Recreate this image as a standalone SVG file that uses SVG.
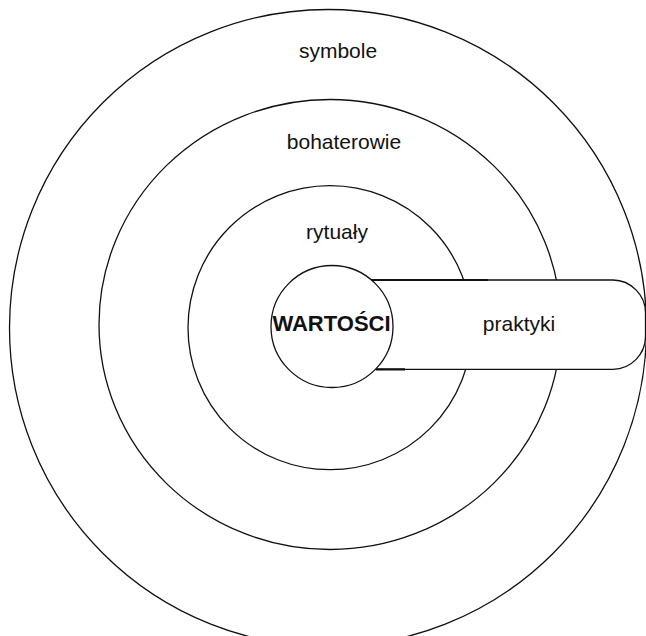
<svg xmlns="http://www.w3.org/2000/svg" width="646" height="636" viewBox="0 0 646 636">
<style>
.ring{fill:#fff;stroke:#111;stroke-width:1.3}
.edge{stroke:#111;stroke-width:2.2;fill:none}
.lbl{font-family:"Liberation Sans",Arial,sans-serif;font-size:21px;fill:#111;text-anchor:middle}
.bold{font-weight:bold;font-size:22px}
</style>
<rect width="646" height="636" fill="#fff"/>
<g id="symbole">
<circle class="ring" cx="328" cy="328" r="318.5"/>
<text class="lbl" x="338" y="57.5">symbole</text>
</g>
<g id="bohaterowie">
<ellipse class="ring" cx="330" cy="324.5" rx="231" ry="225"/>
<text class="lbl" x="344" y="148.5">bohaterowie</text>
</g>
<g id="rytualy">
<circle class="ring" cx="330" cy="327.7" r="142"/>
<text class="lbl" x="337" y="239">rytuały</text>
</g>
<g id="praktyki">
<path class="ring" d="M330,280 H613 A33,33 0 0 1 645.5,313 V336 A33,33 0 0 1 613,369.3 H330 Z"/>
<path class="edge" d="M372,280 H488 M376,369.3 H405"/>
<text class="lbl" x="519" y="331">praktyki</text>
</g>
<g id="wartosci">
<circle class="ring" cx="332" cy="326.5" r="61"/>
<text class="lbl bold" x="331.5" y="330.5">WARTOŚCI</text>
</g>
<g id="connectors"/>
</svg>
